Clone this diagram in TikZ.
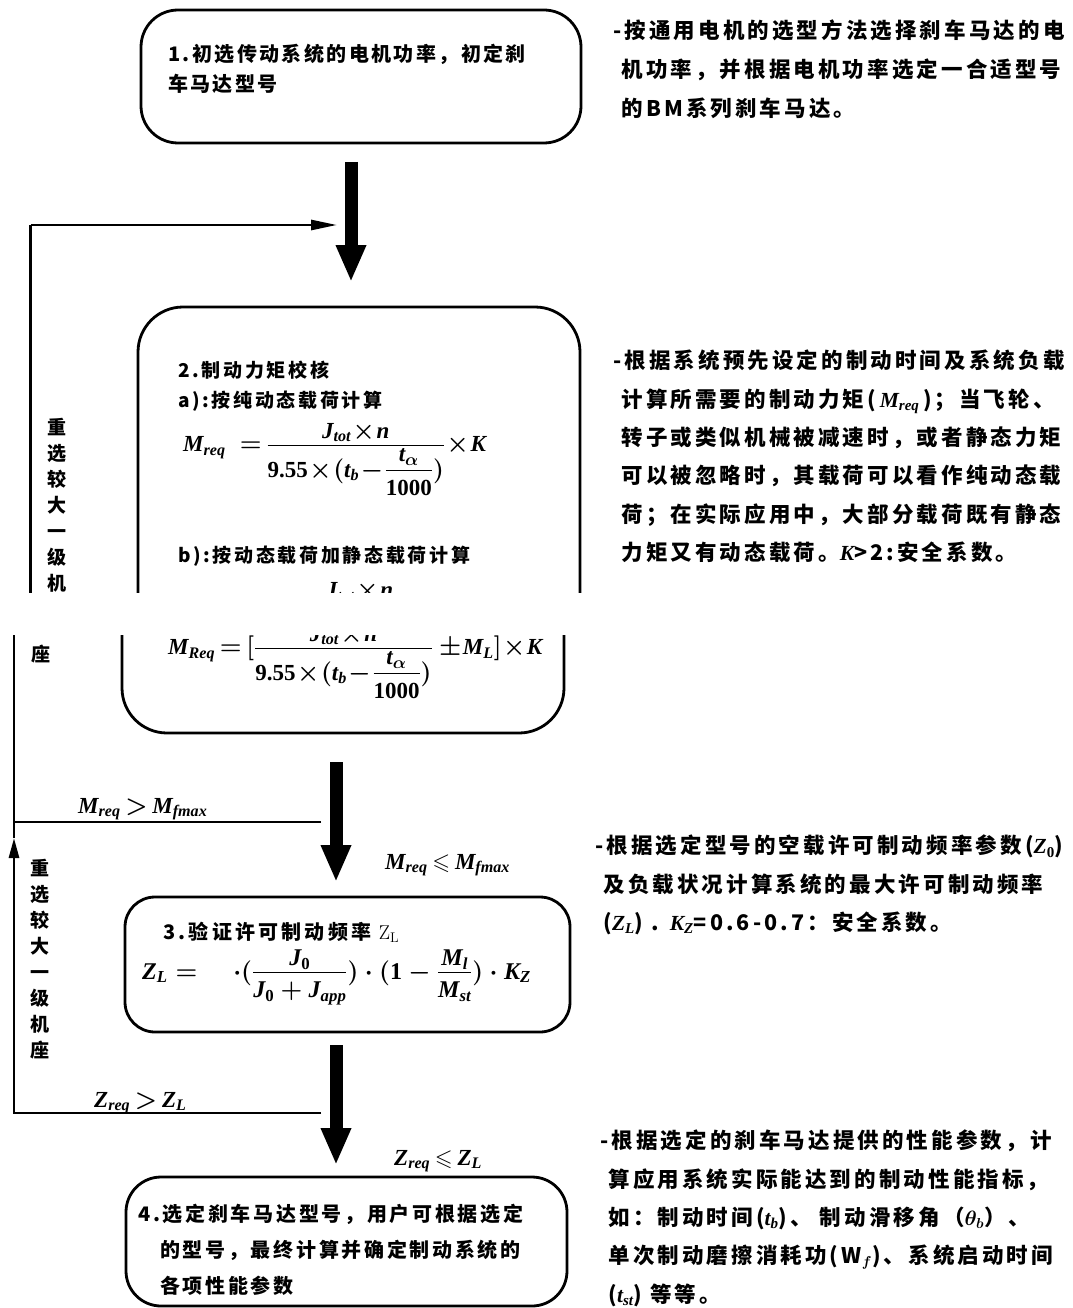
\documentclass[tikz,border=0pt]{standalone}
\usepackage{fontspec}
\usepackage{amsmath,amssymb}
\usetikzlibrary{arrows.meta}
\newfontfamily\cjk{Noto Sans CJK SC}
\newfontfamily\tms{Liberation Serif}
\newcommand\vi[1]{\text{\tms\bfseries\itshape #1}}
\newcommand\vn[1]{\text{\tms\bfseries #1}}
\newcommand\zhf[3]{\fontsize{#1}{#2}\selectfont\cjk\bfseries\addfontfeature{LetterSpace=#3}\boldmath}
\newcommand\lowr[2]{\raisebox{-#1}{$\displaystyle #2$}}
\newcommand\tightm{\medmuskip=1mu\relax\thickmuskip=3mu\relax}
\newcommand\fbden{\vn{9.55}\times(\vi{t}_{\vi{b}}-\dfrac{\lowr{3pt}{\vi{t}_{\alpha}}}{\vn{1000}})}
\newcommand\fbnum{\lowr{7pt}{\vi{J}_{\vi{tot}}\times\vi{n}}}
\tikzset{
  boxline/.style={draw, line width=2.8pt},
  box/.style={boxline, inner sep=0pt},
  thinline/.style={line width=2.8pt},
  fatarrow/.style={line width=13pt, -{Triangle[length=37pt,width=28pt]}},
  thintip/.style={-{Triangle[length=26pt,width=10pt]}},
  uptip/.style={-{Triangle[length=20pt,width=10pt]}},
  txt/.style={inner sep=0pt, anchor=north west, align=left},
  rtxt/.style={txt, font=\zhf{21.5}{38.3}{14.5}},
  vtxt/.style={inner sep=0pt, anchor=north, align=center, font=\zhf{19}{26}{0}},
  formula/.style={inner sep=0pt, anchor=base west, font=\fontsize{23}{28}\selectfont\boldmath},
  mlabel/.style={inner sep=0pt, anchor=base west, font=\fontsize{23}{26}\selectfont\boldmath},
}
\begin{document}
\begin{tikzpicture}[x=1pt,y=-1pt]
\useasboundingbox (0,0) rectangle (1072,1308);
\fill[white] (0,0) rectangle (1072,1308);

% ---------- box 1 ----------
\node[box, rounded corners=37pt, minimum width=440pt, minimum height=133pt] (b1) at (361,76.5) {};
\node[txt, font=\zhf{20}{30}{12}] (b1t) at (168,44) {1.初选传动系统的电机功率，初定刹\\车马达型号};

\node[rtxt, font=\zhf{21.5}{39}{14.5}] (r1) at (613,20) {-按通用电机的选型方法选择刹车马达的电\\
\phantom{-}机功率，并根据电机功率选定一合适型号\\
\phantom{-}的BM系列刹车马达。};

% ---------- arrow 1 and top feedback ----------
\coordinate (a1s) at (351,162);
\coordinate (a1e) at (351,282);
\draw[fatarrow] (a1s) -- (a1e);
\coordinate (fbC) at (30.5,225);
\coordinate (fbE) at (337,225);
\draw[thinline, thintip] (fbC) -- (fbE);

% ---------- box 2 : upper piece ----------
\begin{scope}
\clip (0,0) rectangle (1072,592);
\draw[thinline] (fbC) -- (30.5,600);
\draw[boxline, rounded corners=45pt] (138,307) rectangle (580,688);
\node[formula] (fb1) at (184,611) {$\tightm\phantom{\vi{M}_{\vi{Req}}=[}\dfrac{\fbnum}{\phantom{\fbden}}\phantom{\;\pm\vi{M}_{\vi{L}}]\times\vi{K}}$};
\end{scope}
\node[vtxt] (vt1) at (57,418) {重\\选\\较\\大\\一\\级\\机};

\node[txt, font=\zhf{19}{24}{14}] (b2t) at (178,361) {2.制动力矩校核};
\node[txt, font=\zhf{19}{24}{14}] (b2a) at (178,391) {a):按纯动态载荷计算};
\node[formula] (fa) at (183,451.5) {$\tightm\vi{M}_{\vi{req}}\;\;=\dfrac{\fbnum}{\fbden}\times\vi{K}$};
\node[txt, font=\zhf{19}{24}{14}] (b2b) at (178,546) {b):按动态载荷加静态载荷计算};

\node[rtxt] (r2) at (613,350) {-根据系统预先设定的制动时间及系统负载\\
\phantom{-}计算所需要的制动力矩(\,$\vi{M}_{\vi{req}}$\,)；当飞轮、\\
\phantom{-}转子或类似机械被减速时，或者静态力矩\\
\phantom{-}可以被忽略时，其载荷可以看作纯动态载\\
\phantom{-}荷；在实际应用中，大部分载荷既有静态\\
\phantom{-}力矩又有动态载荷。$\vi{K}$>2:安全系数。};

% ---------- box 2 : lower piece (shifted) ----------
\begin{scope}[shift={(-16,45)}]
\clip (0,590) rectangle (1100,1300);
\draw[boxline, rounded corners=45pt] (138,307) rectangle (580,688);
\node[formula] (fb2) at (184,609.5) {$\tightm\vi{M}_{\vi{Req}}=[\dfrac{\fbnum}{\fbden}\;\pm\vi{M}_{\vi{L}}]\times\vi{K}$};
\end{scope}
\node[vtxt] (vt2) at (41,645) {座};

% ---------- arrow 2 and loop ----------
\coordinate (a2s) at (336,762);
\coordinate (a2e) at (336,882);
\draw[fatarrow] (a2s) -- (a2e);
\coordinate (mEnd) at (321,822);
\coordinate (mCorner) at (14,822);
\coordinate (lowTop) at (14,635);
\draw[thinline] (mEnd) -- (mCorner) -- (lowTop);
\node[mlabel] (lm1) at (78,813) {$\tightm\vi{M}_{\vi{req}}>\vi{M}_{\vi{fmax}}$};
\node[mlabel] (lm2) at (385,869) {$\tightm\vi{M}_{\vi{req}}\leqslant\vi{M}_{\vi{fmax}}$};
\node[vtxt] (vt3) at (40,859) {重\\选\\较\\大\\一\\级\\机\\座};

% ---------- box 3 ----------
\node[box, rounded corners=30pt, minimum width=445pt, minimum height=135pt] (b3) at (347.5,964.5) {};
\node[txt, font=\zhf{20}{24}{16}] (b3t) at (163,922) {3.验证许可制动频率 {\rmfamily\mdseries Z\textsubscript{L}}};
\node[formula, font=\fontsize{24}{28}\selectfont\boldmath] (fz) at (142,979) {$\vi{Z}_{\vi{L}}=\hspace{28pt}\cdot(\dfrac{\lowr{5pt}{\vi{J}_{\vn{0}}}}{\vi{J}_{\vn{0}}+\vi{J}_{\vi{app}}})\cdot(\vn{1}-\dfrac{\lowr{5pt}{\vi{M}_{\vi{l}}}}{\vi{M}_{\vi{st}}})\cdot\vi{K}_{\vi{Z}}$};

\node[rtxt] (r3) at (595,835) {-根据选定型号的空载许可制动频率参数($\vi{Z}_{\vn{0}}$)\\
\phantom{-}及负载状况计算系统的最大许可制动频率\\
\phantom{-}($\vi{Z}_{\vi{L}}$) . $\vi{K}_{\vi{Z}}$=0.6-0.7：安全系数。};

% ---------- arrow 3 and loop ----------
\coordinate (a3s) at (336,1045);
\coordinate (a3e) at (336,1165);
\draw[fatarrow] (a3s) -- (a3e);
\coordinate (zEnd) at (321,1113);
\coordinate (zCorner) at (14,1113);
\coordinate (upTip) at (14,838);
\draw[thinline, uptip] (zEnd) -- (zCorner) -- (upTip);
\draw[thinline] (upTip) -- (mCorner);
\node[mlabel] (lz1) at (94,1107) {$\tightm\vi{Z}_{\vi{req}}>\vi{Z}_{\vi{L}}$};
\node[mlabel] (lz2) at (394,1165) {$\tightm\vi{Z}_{\vi{req}}\leqslant\vi{Z}_{\vi{L}}$};

% ---------- box 4 ----------
\node[box, rounded corners=35pt, minimum width=441pt, minimum height=129pt] (b4) at (346.5,1241.5) {};
\node[txt, font=\zhf{20}{36}{13.5}] (b4t) at (138,1204) {4.选定刹车马达型号，用户可根据选定\\
\phantom{4.}的型号，最终计算并确定制动系统的\\
\phantom{4.}各项性能参数};

\node[rtxt] (r4) at (600,1130) {-根据选定的刹车马达提供的性能参数，计\\
\phantom{-}算应用系统实际能达到的制动性能指标，\\
\phantom{-}如：制动时间($\vi{t}_{\vi{b}}$)、 制动滑移角（$\theta_b$）、\\
\phantom{-}单次制动磨擦消耗功(W$_f$)、系统启动时间\\
\phantom{-}($\vi{t}_{\vi{st}}$) 等等。};
\end{tikzpicture}
\end{document}
